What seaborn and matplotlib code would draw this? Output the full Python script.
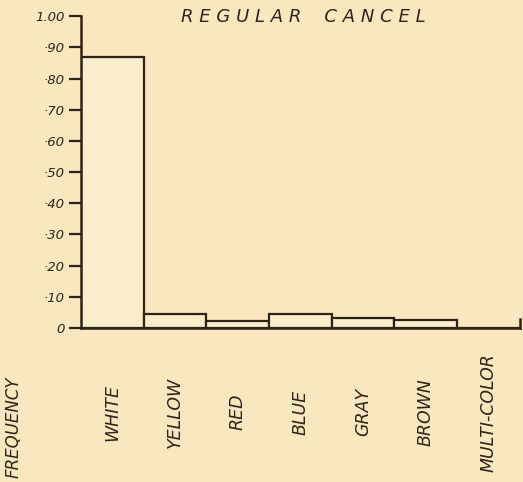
import numpy as np
import matplotlib
matplotlib.use("Agg")
import matplotlib.pyplot as plt
import seaborn as sns

# ---- data ----
colours   = ["WHITE", "YELLOW", "RED", "BLUE", "GRAY", "BROWN", "MULTI-COLOR"]
frequency = [0.87, 0.045, 0.022, 0.044, 0.031, 0.026, 0.0]
y_ticks   = [0.0, 0.1, 0.2, 0.3, 0.4, 0.5, 0.6, 0.7, 0.8, 0.9, 1.0]
y_labels  = ["0", "·10", "·20", "·30", "·40", "·50", "·60", "·70", "·80", "·90", "1.00"]

PAPER = "#f8e7bf"
BAR   = "#faedcb"
INK   = "#2e2318"

sns.set_style("white")
plt.rcParams["font.family"] = ["DejaVu Sans"]

fig = plt.figure(figsize=(5.23, 4.82), dpi=100, facecolor=PAPER)
ax = fig.add_axes([0.155, 0.3195, 0.839, 0.647])
ax.set_facecolor(PAPER)

sns.barplot(x=colours, y=frequency, ax=ax, color=BAR, saturation=1,
            width=1.0, edgecolor=INK, linewidth=1.6)

ax.set_xlim(-0.5, 6.5)
ax.set_ylim(0, 1.0)

# axes frame like the drawing
ax.spines["top"].set_visible(False)
for s in ["left", "bottom", "right"]:
    ax.spines[s].set_color(INK)
    ax.spines[s].set_linewidth(1.8)
ax.spines["right"].set_bounds(0, 0.03)

ax.set_yticks(y_ticks)
ax.set_yticklabels(y_labels, fontsize=9.5, style="italic", color=INK)
ax.tick_params(axis="y", direction="out", length=9, width=1.6, color=INK, pad=3, left=True)

ax.set_xticks(range(len(colours)))
ax.set_xticklabels([])
ax.tick_params(axis="x", length=0)
for i, name in enumerate(colours):
    ax.text(i, -0.27, name, rotation=90, ha="center", va="center",
            fontsize=12.5, style="italic", color=INK, clip_on=False)

ax.set_xlabel("")
ax.set_ylabel("")

fig.text(14 / 523, 1 - 478 / 482, "FREQUENCY", rotation=90, ha="center", va="bottom",
         fontsize=12, style="italic", color=INK)
fig.text(181 / 523, 1 - 17 / 482, "R E G U L A R    C A N C E L", ha="left", va="center",
         fontsize=13, style="italic", color=INK)

fig.savefig("out.png", dpi=100, facecolor=PAPER)
